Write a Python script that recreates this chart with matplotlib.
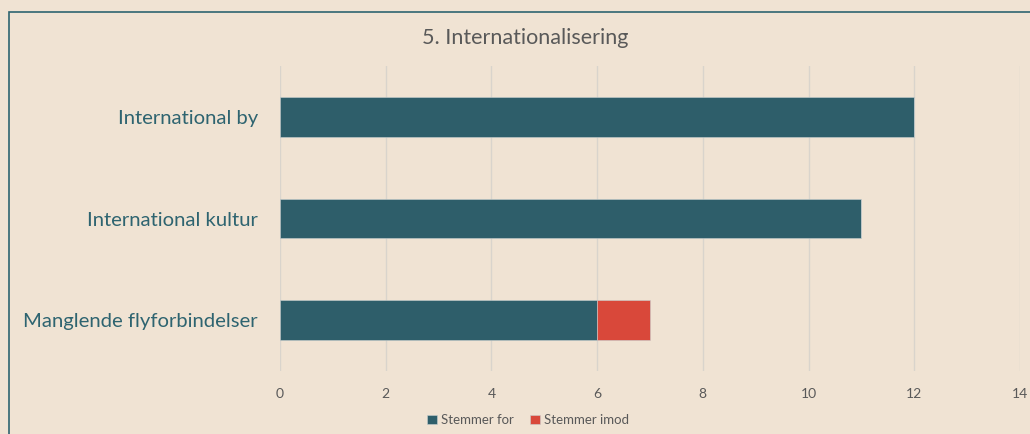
import matplotlib.pyplot as plt
from matplotlib.patches import Rectangle

# Data
categories = ['International by', 'International kultur', 'Manglende flyforbindelser']
stemmer_for = [12, 11, 6]
stemmer_imod = [0, 0, 1]
ticks = [0, 2, 4, 6, 8, 10, 12, 14]

# Colours
bg = '#F0E3D3'
teal = '#2E5E6A'
red = '#D9483A'
label_col = '#2E6470'
grey_txt = '#595959'

plt.rcParams['font.family'] = ['Lato', 'DejaVu Sans']

fig = plt.figure(figsize=(10.30, 4.34), dpi=100, facecolor=bg)
W, H = 1030, 434

# chart border (only top and left visible)
fig.add_artist(Rectangle((9 / W, 1 - 12 / H - 2), 2, 2, transform=fig.transFigure,
                         fill=False, edgecolor=label_col, linewidth=1.2))

ax = fig.add_axes([280 / W, 1 - 371 / H, 740 / W, 305 / H], facecolor=bg)

y = list(range(len(categories)))[::-1]
ax.barh(y, stemmer_for, height=0.39, color=teal, edgecolor='#C9CFCF', linewidth=0.4,
        label='Stemmer for', zorder=3)
ax.barh(y, stemmer_imod, left=stemmer_for, height=0.39, color=red, edgecolor='#C9CFCF',
        linewidth=0.4, label='Stemmer imod', zorder=3)

ax.set_xlim(0, 14)
ax.set_ylim(-0.5, 2.5)
ax.set_xticks(ticks)
ax.set_xticklabels([str(t) for t in ticks], color=grey_txt, fontsize=10)
ax.set_yticks(y)
ax.set_yticklabels(categories, color=label_col, fontsize=14.6)
ax.tick_params(axis='both', length=0)
ax.tick_params(axis='x', pad=12)
ax.tick_params(axis='y', pad=16)
ax.xaxis.grid(True, color='#D9D4CC', linewidth=1, zorder=0)
for s in ax.spines.values():
    s.set_visible(False)

fig.text(525 / W, 1 - 38 / H, '5. Internationalisering', ha='center', va='center',
         fontsize=15.5, color=grey_txt)

leg = fig.legend(loc='center', bbox_to_anchor=(528 / W, 1 - 420 / H), ncol=2,
                 frameon=False, fontsize=9.5, handlelength=0.7, handleheight=0.7,
                 handletextpad=0.3, columnspacing=1.3)
for t in leg.get_texts():
    t.set_color(grey_txt)

fig.savefig('out.png', dpi=100, facecolor=bg)
